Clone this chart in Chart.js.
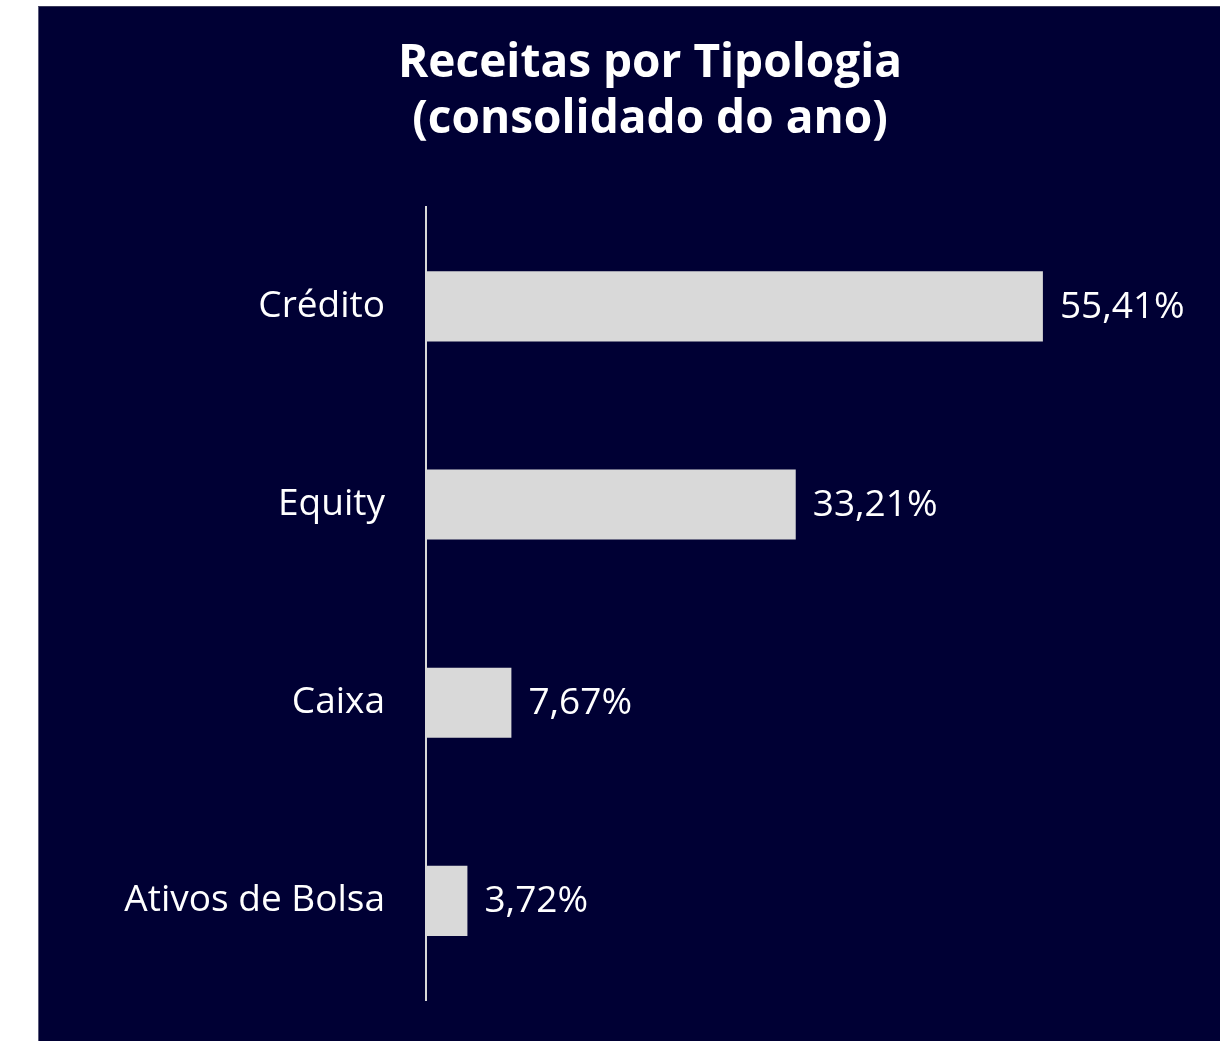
<!DOCTYPE html>
<html>
<head>
<meta charset="utf-8">
<script src="https://cdn.jsdelivr.net/npm/chart.js@4/dist/chart.umd.min.js"></script>
<style>
  html, body { margin: 0; padding: 0; background: #ffffff; overflow: hidden; }
  #painel {
    position: absolute; left: 38px; top: 6px;
    width: 1222px; height: 1035px;
    background: #000034;
    border-left: 1px solid #5a5a7a;
    border-top: 1px solid #3a3a5a;
  }
  canvas { display: block; }
</style>
</head>
<body>
<div id="painel"><canvas id="graficoReceitas" width="1222" height="1035"></canvas></div>
<script>
let categorias = ["Crédito", "Equity", "Caixa", "Ativos de Bolsa"]
let percentuais = [55.41, 33.21, 7.67, 3.72]
let titulo = ["Receitas por Tipologia", "(consolidado do ano)"]

const fonte = "'Open Sans', 'Noto Sans', sans-serif"

// rótulos de valor ao lado das barras
const rotulosValor = {
    id: 'rotulosValor',
    afterDatasetsDraw(chart) {
        const ctx = chart.ctx
        const meta = chart.getDatasetMeta(0)
        ctx.save()
        ctx.fillStyle = '#ffffff'
        ctx.font = '37px ' + fonte
        ctx.textAlign = 'left'
        ctx.textBaseline = 'middle'
        meta.data.forEach((barra, i) => {
            const texto = percentuais[i].toFixed(2).replace('.', ',') + '%'
            ctx.fillText(texto, barra.x + 17, barra.y + 1)
        })
        ctx.restore()
    }
}

const dados = {
    labels: categorias,
    datasets: [{
        data: percentuais,
        backgroundColor: '#d9d9d9',
        borderWidth: 0,
        barPercentage: 0.354,
        categoryPercentage: 1
    }]
}

const config = {
    type: 'bar',
    data: dados,
    options: {
        indexAxis: 'y',
        responsive: false,
        animation: false,
        layout: { padding: { left: 0, right: 0, top: 0, bottom: 42 } },
        plugins: {
            legend: { display: false },
            tooltip: { enabled: false },
            title: {
                display: true,
                text: titulo,
                color: '#ffffff',
                font: { family: fonte, size: 46, weight: 'bold', lineHeight: 1.22 },
                padding: { top: 29, bottom: 59 }
            }
        },
        scales: {
            x: {
                display: false,
                min: 0,
                max: 75
            },
            y: {
                afterFit: (escala) => { escala.width = 387 },
                grid: {
                    display: true,
                    drawOnChartArea: false,
                    drawTicks: true,
                    tickLength: 41,
                    color: 'rgba(0,0,0,0)'
                },
                border: { display: true, color: '#d9d9d9', width: 2 },
                ticks: {
                    color: '#ffffff',
                    padding: 0,
                    font: { family: fonte, size: 37 }
                }
            }
        }
    },
    plugins: [rotulosValor]
}

const ctxReceitas = document.getElementById('graficoReceitas')

new Chart(ctxReceitas, config)
</script>
</body>
</html>
